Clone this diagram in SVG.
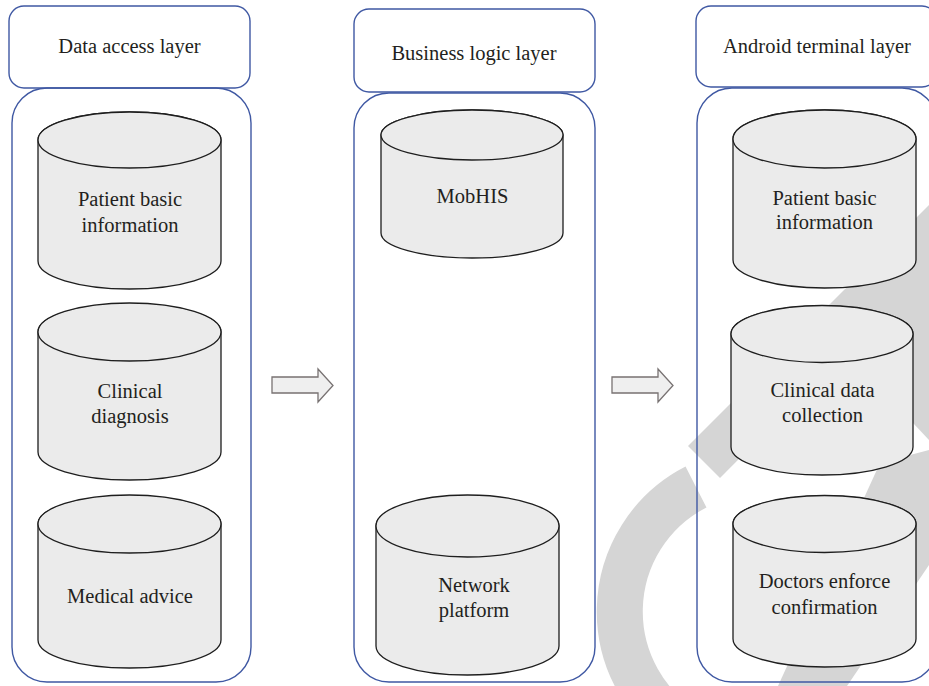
<svg xmlns="http://www.w3.org/2000/svg" width="929" height="686" viewBox="0 0 929 686">
<style>
.hdr{fill:#fff;stroke:#3f58a3;stroke-width:1.4}
.cont{fill:none;stroke:#3f58a3;stroke-width:1.4}
.cyl{fill:#ebebeb;stroke:#1e1e1e;stroke-width:1.3}
.arr{fill:#efefef;stroke:#787272;stroke-width:1.3}
text{font-family:"Liberation Serif","Times New Roman",serif;font-size:20.5px;fill:#231f20;text-anchor:middle}
.wm{fill:#d5d5d5}
</style>
<rect width="929" height="686" fill="#fff"/>
<g id="watermark">
<path d="M696,487 A140,140 0 0 0 690,733" fill="none" stroke="#d5d5d5" stroke-width="46"/>
<polygon class="wm" points="688,446 929,205 929,268 720,478"/>
<polygon class="wm" points="870,262 929,262 929,440 835,340"/>
<polygon class="wm" points="778,686 847,686 929,565 929,450 880,463"/>
</g>
<g id="data-access-layer">
<rect class="hdr" x="9" y="6" width="241" height="82" rx="15"/>
<text x="129.5" y="53">Data access layer</text>
<rect class="cont" x="12" y="88" width="239" height="594" rx="35"/>
</g>
<g id="da-patient">
<path class="cyl" d="M38,140 V261 A91.5,28 0 0 0 221,261 V140 A91.5,28 0 0 0 38,140 Z"/>
<ellipse class="cyl" cx="129.5" cy="140" rx="91.5" ry="28"/>
<text x="130" y="206">Patient basic</text>
<text x="130" y="232">information</text>
</g>
<g id="da-clinical">
<path class="cyl" d="M38,332 V452 A91.5,28 0 0 0 221,452 V332 A91.5,28 0 0 0 38,332 Z"/>
<ellipse class="cyl" cx="129.5" cy="332" rx="91.5" ry="29"/>
<text x="130" y="398">Clinical</text>
<text x="130" y="423">diagnosis</text>
</g>
<g id="da-medical">
<path class="cyl" d="M38,524 V640 A91.5,28 0 0 0 221,640 V524 A91.5,28 0 0 0 38,524 Z"/>
<ellipse class="cyl" cx="129.5" cy="524" rx="91.5" ry="29"/>
<text x="130" y="603">Medical advice</text>
</g>
<g id="business-logic-layer">
<rect class="hdr" x="354" y="9" width="241" height="83" rx="15"/>
<text x="474" y="60">Business logic layer</text>
<rect class="cont" x="354" y="93" width="241" height="589" rx="35"/>
</g>
<g id="bl-mobhis">
<path class="cyl" d="M381,135 V233 A91,25 0 0 0 563,233 V135 A91,25 0 0 0 381,135 Z"/>
<ellipse class="cyl" cx="472" cy="135" rx="91" ry="25"/>
<text x="472.5" y="203">MobHIS</text>
</g>
<g id="bl-network">
<path class="cyl" d="M376,526 V646 A91.5,29 0 0 0 559,646 V526 A91.5,29 0 0 0 376,526 Z"/>
<ellipse class="cyl" cx="467.5" cy="526" rx="91.5" ry="31"/>
<text x="474" y="592">Network</text>
<text x="474" y="617">platform</text>
</g>
<g id="android-terminal-layer">
<rect class="hdr" x="696" y="6" width="241" height="81" rx="15"/>
<text x="817" y="53">Android terminal layer</text>
<rect class="cont" x="697" y="88" width="240" height="594" rx="35"/>
</g>
<g id="at-patient">
<path class="cyl" d="M733,139 V260 A91.5,28 0 0 0 916,260 V139 A91.5,29 0 0 0 733,139 Z"/>
<ellipse class="cyl" cx="824.5" cy="139" rx="91.5" ry="29"/>
<text x="824.5" y="205">Patient basic</text>
<text x="824.5" y="229">information</text>
</g>
<g id="at-clinical">
<path class="cyl" d="M731,334 V447 A91,28 0 0 0 913,447 V334 A91,28 0 0 0 731,334 Z"/>
<ellipse class="cyl" cx="822" cy="334" rx="91" ry="28.5"/>
<text x="822.5" y="397">Clinical data</text>
<text x="822.5" y="422">collection</text>
</g>
<g id="at-doctors">
<path class="cyl" d="M733,524 V639 A91.5,28 0 0 0 916,639 V524 A91.5,28 0 0 0 733,524 Z"/>
<ellipse class="cyl" cx="824.5" cy="524" rx="91.5" ry="28.5"/>
<text x="824.5" y="588">Doctors enforce</text>
<text x="824.5" y="614">confirmation</text>
</g>
<g id="connectors">
<path class="arr" d="M272,377 H318 V369 L333,385.5 L318,402 V393 H272 Z"/>
<path class="arr" d="M612,377 H658 V369 L673,385.5 L658,402 V393 H612 Z"/>
</g>
</svg>
